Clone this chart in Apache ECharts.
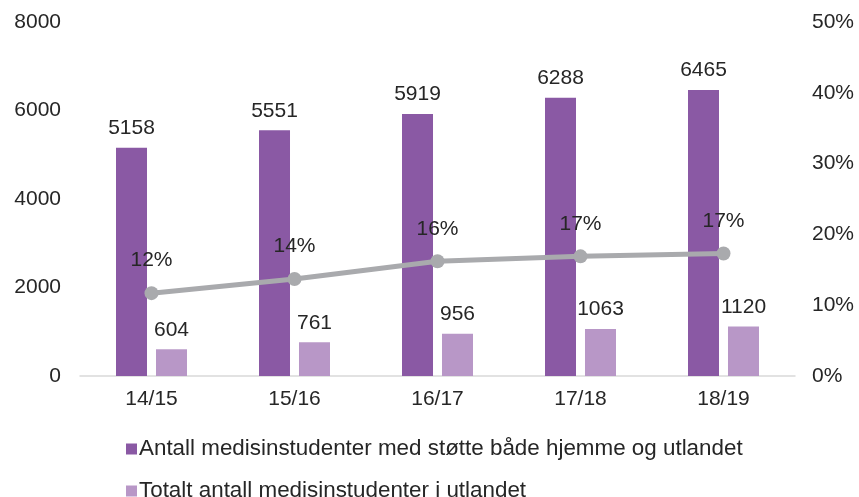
<!DOCTYPE html>
<html>
<head>
<meta charset="utf-8">
<script src="https://cdn.jsdelivr.net/npm/echarts@6/dist/echarts.min.js"></script>
<style>
  html, body { margin: 0; padding: 0; background: #fff; }
  #container { width: 859px; height: 497px; }
</style>
</head>
<body>
<div id="container"></div>
<script type="text/javascript">
    // data
    var years = ['14/15', '15/16', '16/17', '17/18', '18/19'];
    var bothCounts = [5158, 5551, 5919, 6288, 6465];
    var abroadCounts = [604, 761, 956, 1063, 1120];
    var shares = [0.117, 0.137, 0.162, 0.169, 0.173];

    var nameBoth = 'Antall medisinstudenter med støtte både hjemme og utlandet';
    var nameAbroad = 'Totalt antall medisinstudenter i utlandet';

    var txt = '#262626';
    var font = 'Liberation Sans, Arial, sans-serif';

    var mychart = echarts.init(document.getElementById('container'));

    function legendAt(name, top) {
        return {
            orient: 'vertical',
            left: 121,
            top: top,
            itemWidth: 11,
            itemHeight: 11,
            itemGap: 0,
            icon: 'rect',
            data: [name],
            textStyle: { fontSize: 22.4, lineHeight: 24, color: txt, fontFamily: font, padding: [0, 0, 0, -3] }
        };
    }

    var options = {
        textStyle: { fontFamily: font },
        animation: false,
        grid: { left: 80, right: 64, top: 22, bottom: 121 },
        legend: [legendAt(nameBoth, 432), legendAt(nameAbroad, 474)],
        xAxis: [{
            type: 'category',
            data: years,
            axisLine: { lineStyle: { color: '#D9D9D9', width: 1.5 } },
            axisTick: { show: false },
            axisLabel: { fontSize: 21, color: txt, margin: 13 }
        }],
        yAxis: [{
            type: 'value',
            min: 0, max: 8000, interval: 2000,
            splitLine: { show: false },
            axisLine: { show: false },
            axisTick: { show: false },
            axisLabel: { fontSize: 21, color: txt, margin: 19, formatter: function (v) { return String(v); } }
        }, {
            type: 'value',
            min: 0, max: 0.5, interval: 0.1,
            splitLine: { show: false },
            axisLine: { show: false },
            axisTick: { show: false },
            axisLabel: {
                fontSize: 21, color: txt, margin: 17,
                formatter: function (v) { return Math.round(v * 100) + '%'; }
            }
        }],
        series: [{
            name: nameBoth,
            type: 'bar',
            data: bothCounts,
            barWidth: 31,
            barGap: '29%',
            itemStyle: { color: '#8A59A4' },
            label: { show: true, position: 'top', distance: 9, fontSize: 21, color: txt }
        }, {
            name: nameAbroad,
            type: 'bar',
            data: abroadCounts,
            barWidth: 31,
            itemStyle: { color: '#B897C7' },
            label: { show: true, position: 'top', distance: 9, fontSize: 21, color: txt }
        }, {
            name: 'Andel',
            type: 'line',
            yAxisIndex: 1,
            data: shares,
            symbol: 'circle',
            symbolSize: 14,
            lineStyle: { color: '#A9AAAD', width: 5 },
            itemStyle: { color: '#A9AAAD' },
            label: {
                show: true, position: 'top', distance: 15, fontSize: 21, color: txt,
                formatter: function (p) { return Math.round(p.value * 100) + '%'; }
            },
            z: 5
        }]
    };

    mychart.setOption(options);
</script>
</body>
</html>
